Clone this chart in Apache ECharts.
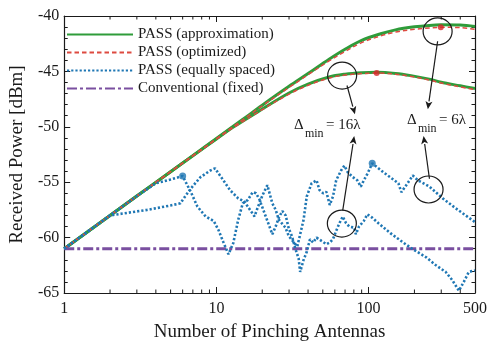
<!DOCTYPE html>
<html>
<head>
<meta charset="utf-8">
<script src="https://cdn.jsdelivr.net/npm/echarts@6/dist/echarts.min.js"></script>
<style>
  html, body { margin: 0; padding: 0; background: #ffffff; }
  #chart { width: 490px; height: 347px; }
</style>
</head>
<body>
<div id="chart"></div>
<script>
// Received power versus number of pinching antennas, [N, dBm] pairs.
const approx6 = [[1,-61.0],[2,-58.0],[3,-56.25],[5,-54.05],[7,-52.6],[10,-51.05],[15,-49.3],[20,-48.05],[30,-46.35],[40,-45.2],[55,-43.9],[70,-43.0],[90,-42.2],[120,-41.6],[150,-41.25],[200,-40.98],[250,-40.85],[300,-40.8],[400,-40.82],[500,-40.95]];
const approx16 = [[1,-61.0],[2,-58.0],[3,-56.25],[5,-54.05],[7,-52.62],[10,-51.1],[13,-50.0],[20,-48.4],[30,-46.95],[40,-46.15],[55,-45.5],[70,-45.25],[90,-45.12],[113,-45.08],[150,-45.18],[190,-45.38],[250,-45.7],[300,-45.98],[400,-46.3],[500,-46.55]];
const optimized6 = [[1,-61.0],[2,-58.0],[3,-56.25],[5,-54.05],[7,-52.6],[10,-51.07],[15,-49.33],[20,-48.1],[30,-46.45],[40,-45.3],[55,-44.05],[70,-43.2],[90,-42.4],[120,-41.8],[150,-41.45],[200,-41.2],[250,-41.08],[300,-41.02],[400,-41.05],[500,-41.2]];
const optimized16 = [[1,-61.0],[2,-58.0],[3,-56.25],[5,-54.05],[7,-52.63],[10,-51.12],[13,-50.05],[20,-48.45],[30,-47.05],[40,-46.25],[55,-45.6],[70,-45.33],[90,-45.2],[113,-45.15],[150,-45.25],[190,-45.45],[250,-45.78],[300,-46.05],[400,-46.4],[500,-46.65]];
const equal16 = [[1,-61.0],[2,-58.0],[3,-56.25],[4,-55.1],[5,-54.75],[6,-54.45],[6.8,-55.9],[7.5,-57.2],[8.5,-58.1],[9.6,-58.5],[10.3,-59.3],[11.1,-60.4],[12,-61.5],[12.9,-60.5],[13.9,-58.4],[14.9,-56.9],[16.1,-56.6],[17.3,-55.9],[18.2,-56.0],[19.1,-56.5],[21.1,-58.1],[23.3,-59.7],[24.5,-59.0],[25.7,-58.2],[27.1,-57.6],[28.5,-58.0],[29.9,-59.2],[31.4,-59.9],[33,-61.0],[34.7,-61.9],[35.5,-63.1],[37.4,-62.0],[39.2,-61.3],[41.2,-60.15],[43.2,-60.45],[45.5,-60.0],[49,-60.3],[52.8,-60.6],[55.5,-60.45],[58.3,-60.15],[61.2,-59.4],[64.3,-58.7],[67.6,-58.1],[71.1,-58.7],[74.7,-59.0],[80.4,-59.1],[82.4,-59.7],[86.5,-59.0],[93,-58.5],[98.1,-57.9],[105.6,-58.2],[116,-58.7],[139,-59.6],[169,-60.45],[195,-61.04],[239,-61.78],[277,-62.5],[321,-63.1],[355,-63.85],[392,-64.8],[422,-64.0],[455,-63.1],[500,-62.96]];
const equal6 = [[1,-61.0],[2,-58.0],[3.5,-57.5],[5,-57.1],[5.8,-56.9],[6.1,-56.46],[6.76,-55.6],[7.86,-54.54],[9.1,-53.95],[9.8,-53.75],[10,-53.8],[11.1,-54.83],[12.3,-55.72],[13.9,-56.46],[15.3,-56.76],[16.9,-57.64],[17.8,-58.09],[18.6,-57.35],[20.1,-56.17],[21.6,-55.27],[23.3,-56.9],[24.5,-57.49],[25.7,-58.38],[28.4,-59.1],[29.9,-59.86],[33,-60.59],[34,-60.8],[37.4,-58.38],[39.2,-56.3],[42.2,-55.1],[45.5,-54.83],[47.5,-55.7],[50.3,-56.0],[52.8,-55.87],[55.5,-57.05],[58.3,-56.3],[61.2,-54.83],[65.9,-53.95],[69.3,-53.5],[72.9,-54.1],[78.6,-54.54],[84.3,-54.83],[88.8,-55.4],[93,-54.83],[98.1,-54.25],[105.6,-53.3],[125,-54.1],[157,-55.1],[164,-55.9],[174,-55.4],[195,-54.4],[211,-54.83],[251,-55.4],[307,-56.46],[373,-57.35],[500,-58.6]];
const conventional = [[1,-61.0],[500,-61.0]];
const optimumPoints = [[298,-41.02],[113,-45.15]];
const equalBreakPoints = [[6,-54.45],[105.6,-53.3]];

// Axis settings
const xMin = 1, xMax = 500;
const yMin = -65, yMax = -40, yStep = 5;
const xMinorTicks = [2,3,4,5,6,7,8,9,20,30,40,50,60,70,80,90,200,300,400];

// Annotation anchors in data space
const rings = [[67,-45.38],[66.7,-58.73],[284,-41.39],[247.6,-55.66]];
const arrows = [
  { from: [72.1,-46.27], to: [81.3,-48.87] },
  { from: [67.6,-57.55], to: [80.4,-50.84] },
  { from: [284,-42.28], to: [245,-48.42] },
  { from: [251,-54.69], to: [229.7,-50.84] }
];
const spacingLabels = [
  { at: [32.3,-49.84], value: '16λ' },
  { at: [178.5,-49.40], value: '6λ' }
];

const FONT = "'Liberation Serif', 'Times New Roman', serif";
const INK = '#1a1a1a';
const GREEN = '#2f9c3a', RED = '#dd4a40', BLUE = '#1f77b4', PURPLE = '#7a4fa0';

const chart = echarts.init(document.getElementById('chart'), null, { renderer: 'canvas' });

const lineSeries = (name, data, style, z, smooth) => ({
  name, type: 'line', data, z, smooth: smooth ? 0.35 : false,
  symbol: 'none', lineStyle: style, itemStyle: { color: style.color },
  emphasis: { disabled: true }, animation: false
});

const greenStyle = { color: GREEN, width: 3, type: 'solid' };
const redStyle = { color: RED, width: 1.5, type: [4.5, 3] };
const blueStyle = { color: BLUE, width: 2.6, type: [2.2, 2.0], cap: 'butt' };
const purpleStyle = { color: PURPLE, width: 3, type: [10, 3, 3, 3] };

const axisLineStyle = { show: true, onZero: false, lineStyle: { color: INK, width: 1.2 } };

chart.setOption({
  animation: false,
  grid: { left: 58, right: 14, top: 16, bottom: 49 },
  legend: {
    data: ['PASS (approximation)', 'PASS (optimized)', 'PASS (equally spaced)', 'Conventional (fixed)'],
    orient: 'vertical', left: 66, top: 27, padding: 0,
    itemWidth: 66, itemHeight: 14, itemGap: 3,
    itemStyle: { opacity: 0 },
    textStyle: { fontFamily: FONT, fontSize: 15, color: INK },
    selectedMode: false
  },
  xAxis: [
    {
      type: 'log', logBase: 10, min: xMin, max: xMax, position: 'bottom',
      axisLine: axisLineStyle,
      axisTick: { show: true, inside: true, length: 6, lineStyle: { color: INK } },
      axisLabel: { fontFamily: FONT, fontSize: 16, color: INK, margin: 8, showMaxLabel: true, showMinLabel: true },
      splitLine: { show: false },
      name: 'Number of Pinching Antennas', nameLocation: 'middle', nameGap: 30,
      nameTextStyle: { fontFamily: FONT, fontSize: 19, color: INK }
    },
    {
      type: 'log', logBase: 10, min: xMin, max: xMax, position: 'top',
      axisLine: axisLineStyle,
      axisTick: { show: true, inside: true, length: 6, lineStyle: { color: INK } },
      axisLabel: { show: false }, splitLine: { show: false }
    }
  ],
  yAxis: [
    {
      type: 'value', min: yMin, max: yMax, interval: yStep, position: 'left',
      axisLine: axisLineStyle,
      axisTick: { show: true, inside: true, length: 6, lineStyle: { color: INK } },
      minorTick: { show: true, splitNumber: 5, length: 3.5, lineStyle: { color: INK } },
      axisLabel: { fontFamily: FONT, fontSize: 16, color: INK, margin: 5 },
      splitLine: { show: false },
      name: 'Received Power [dBm]', nameLocation: 'middle', nameGap: 33,
      nameTextStyle: { fontFamily: FONT, fontSize: 19, color: INK }
    },
    {
      type: 'value', min: yMin, max: yMax, interval: yStep, position: 'right',
      axisLine: axisLineStyle,
      axisTick: { show: true, inside: true, length: 6, lineStyle: { color: INK } },
      minorTick: { show: true, splitNumber: 5, length: 3.5, lineStyle: { color: INK } },
      axisLabel: { show: false }, splitLine: { show: false }
    }
  ],
  series: [
    lineSeries('PASS (approximation)', approx6, greenStyle, 2, true),
    lineSeries('PASS (approximation)', approx16, greenStyle, 2, true),
    lineSeries('PASS (optimized)', optimized6, redStyle, 3, true),
    lineSeries('PASS (optimized)', optimized16, redStyle, 3, true),
    lineSeries('PASS (equally spaced)', equal16, blueStyle, 5, false),
    lineSeries('PASS (equally spaced)', equal6, blueStyle, 5, false),
    lineSeries('Conventional (fixed)', conventional, purpleStyle, 4, false),
    {
      name: 'optimum', type: 'scatter', data: optimumPoints, symbolSize: 6, z: 6,
      itemStyle: { color: '#d62728' }, silent: true
    },
    {
      name: 'breakpoints', type: 'scatter', data: equalBreakPoints, symbolSize: 7, z: 6,
      itemStyle: { color: BLUE }, silent: true
    },
    {
      // Logarithmic minor ticks on bottom and top frame edges
      name: 'minorTicks', type: 'custom', silent: true, clip: false, z: 10,
      data: xMinorTicks.map(v => [v, yMin]),
      encode: { x: 0, y: 1 },
      renderItem: (params, api) => {
        const v = api.value(0);
        const b = api.coord([v, yMin]);
        const t = api.coord([v, yMax]);
        const st = { stroke: INK, lineWidth: 1 };
        return {
          type: 'group',
          children: [
            { type: 'line', shape: { x1: b[0], y1: b[1], x2: b[0], y2: b[1] - 3.5 }, style: st },
            { type: 'line', shape: { x1: t[0], y1: t[1], x2: t[0], y2: t[1] + 3.5 }, style: st }
          ]
        };
      }
    }
  ]
});

// Annotations: rings, arrows and spacing labels
const toPx = p => chart.convertToPixel({ xAxisIndex: 0, yAxisIndex: 0 }, p);
const elements = [];
rings.forEach(r => {
  const c = toPx(r);
  elements.push({
    type: 'ellipse', shape: { cx: c[0], cy: c[1], rx: 14.5, ry: 13.5 },
    style: { fill: null, stroke: INK, lineWidth: 1.2 }, z: 20
  });
});
arrows.forEach(a => {
  const p0 = toPx(a.from), p1 = toPx(a.to);
  const dx = p1[0] - p0[0], dy = p1[1] - p0[1];
  const len = Math.hypot(dx, dy), ux = dx / len, uy = dy / len;
  const headL = 8, headW = 3.5;
  const bx = p1[0] - ux * headL, by = p1[1] - uy * headL;
  elements.push({
    type: 'line', shape: { x1: p0[0], y1: p0[1], x2: bx, y2: by },
    style: { stroke: INK, lineWidth: 1.2 }, z: 20
  });
  elements.push({
    type: 'polygon',
    shape: { points: [[p1[0], p1[1]], [bx - uy * headW, by + ux * headW], [bx + ux * 2, by + uy * 2], [bx + uy * headW, by - ux * headW]] },
    style: { fill: INK }, z: 20
  });
});
spacingLabels.forEach(l => {
  const p = toPx(l.at);
  elements.push({ type: 'text', x: p[0], y: p[1], z: 20,
    style: { text: 'Δ', font: `15px ${FONT}`, fill: INK, textVerticalAlign: 'middle' } });
  elements.push({ type: 'text', x: p[0] + 11, y: p[1] + 9, z: 20,
    style: { text: 'min', font: `12px ${FONT}`, fill: INK, textVerticalAlign: 'middle' } });
  elements.push({ type: 'text', x: p[0] + 32, y: p[1], z: 20,
    style: { text: '= ' + l.value, font: `15px ${FONT}`, fill: INK, textVerticalAlign: 'middle' } });
});
chart.setOption({ graphic: { elements } });
</script>
</body>
</html>
